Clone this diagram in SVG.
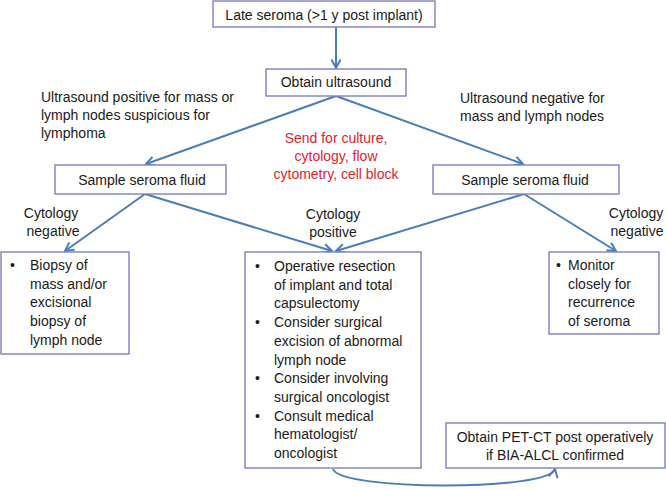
<svg xmlns="http://www.w3.org/2000/svg" width="666" height="490" viewBox="0 0 666 490">
<defs>
<style>
text{font-family:"Liberation Sans",Arial,sans-serif;font-size:14px;fill:#1a1a1a}
.c{text-anchor:middle}
.red{fill:#e8202a}
.box{fill:#fff;stroke:#7f7fc0;stroke-width:1.4}
.con{fill:none;stroke:#4a7ebb;stroke-width:2}
</style>
<marker id="ah" viewBox="0 0 12 12" refX="10.5" refY="6" markerWidth="12" markerHeight="12" orient="auto" markerUnits="userSpaceOnUse">
<path d="M2,1.5 L10.5,6 L2,10.5" fill="none" stroke="#4a7ebb" stroke-width="2"/>
</marker>
</defs>
<rect width="666" height="490" fill="#fff"/>

<g id="connectors">
<path class="con" d="M336,27 L336,68" marker-end="url(#ah)"/>
<path class="con" d="M336,96 L146,164" marker-end="url(#ah)"/>
<path class="con" d="M336,96 L523,164" marker-end="url(#ah)"/>
<path class="con" d="M145,194 L65,251" marker-end="url(#ah)"/>
<path class="con" d="M145,194 L332,251" marker-end="url(#ah)"/>
<path class="con" d="M524,194 L336,251" marker-end="url(#ah)"/>
<path class="con" d="M524,194 L616,251" marker-end="url(#ah)"/>
<path class="con" d="M333,469 C340,491 550,491 555,469" marker-end="url(#ah)"/>
</g>

<g id="late-seroma">
<rect class="box" x="213" y="1" width="222" height="26"/>
<text class="c" x="324" y="20">Late seroma (&gt;1 y post implant)</text>
</g>

<g id="obtain-ultrasound">
<rect class="box" x="266" y="69" width="140" height="27"/>
<text class="c" x="336" y="87">Obtain ultrasound</text>
</g>

<g id="label-us-positive">
<text x="41" y="102">Ultrasound positive for mass or</text>
<text x="41" y="120">lymph nodes suspicious for</text>
<text x="41" y="138">lymphoma</text>
</g>

<g id="label-us-negative">
<text x="460" y="103">Ultrasound negative for</text>
<text x="460" y="121">mass and lymph nodes</text>
</g>

<g id="label-send">
<text class="c red" x="336" y="143">Send for culture,</text>
<text class="c red" x="336" y="161">cytology, flow</text>
<text class="c red" x="336" y="179">cytometry, cell block</text>
</g>

<g id="sample-left">
<rect class="box" x="55" y="165" width="171" height="29"/>
<text class="c" x="142" y="185">Sample seroma fluid</text>
</g>

<g id="sample-right">
<rect class="box" x="433" y="165" width="186" height="29"/>
<text class="c" x="525" y="185">Sample seroma fluid</text>
</g>

<g id="label-cyto-neg-left">
<text class="c" x="51" y="218">Cytology</text>
<text class="c" x="53" y="236">negative</text>
</g>

<g id="label-cyto-pos">
<text class="c" x="333" y="219">Cytology</text>
<text class="c" x="333" y="237">positive</text>
</g>

<g id="label-cyto-neg-right">
<text class="c" x="636" y="218">Cytology</text>
<text class="c" x="637" y="236">negative</text>
</g>

<g id="biopsy">
<rect class="box" x="1" y="252" width="128" height="102"/>
<text x="10" y="270">•</text>
<text x="30" y="270">Biopsy of</text>
<text x="30" y="288.7">mass and/or</text>
<text x="30" y="307.4">excisional</text>
<text x="30" y="326">biopsy of</text>
<text x="30" y="344.8">lymph node</text>
</g>

<g id="operative">
<rect class="box" x="245" y="252" width="176" height="216"/>
<text x="255" y="271">•</text>
<text x="274" y="271">Operative resection</text>
<text x="274" y="289.7">of implant and total</text>
<text x="274" y="308.4">capsulectomy</text>
<text x="255" y="327.1">•</text>
<text x="274" y="327.1">Consider surgical</text>
<text x="274" y="345.8">excision of abnormal</text>
<text x="274" y="364.5">lymph node</text>
<text x="255" y="383.2">•</text>
<text x="274" y="383.2">Consider involving</text>
<text x="274" y="401.9">surgical oncologist</text>
<text x="255" y="420.6">•</text>
<text x="274" y="420.6">Consult medical</text>
<text x="274" y="439.3">hematologist/</text>
<text x="274" y="458">oncologist</text>
</g>

<g id="monitor">
<rect class="box" x="549" y="252" width="110" height="82"/>
<text x="556" y="270">•</text>
<text x="568" y="270">Monitor</text>
<text x="568" y="288.7">closely for</text>
<text x="568" y="307.4">recurrence</text>
<text x="568" y="326">of seroma</text>
</g>

<g id="pet-ct">
<rect class="box" x="446" y="423" width="219" height="45"/>
<text class="c" x="555" y="442">Obtain PET-CT post operatively</text>
<text class="c" x="555" y="460">if BIA-ALCL confirmed</text>
</g>
</svg>
